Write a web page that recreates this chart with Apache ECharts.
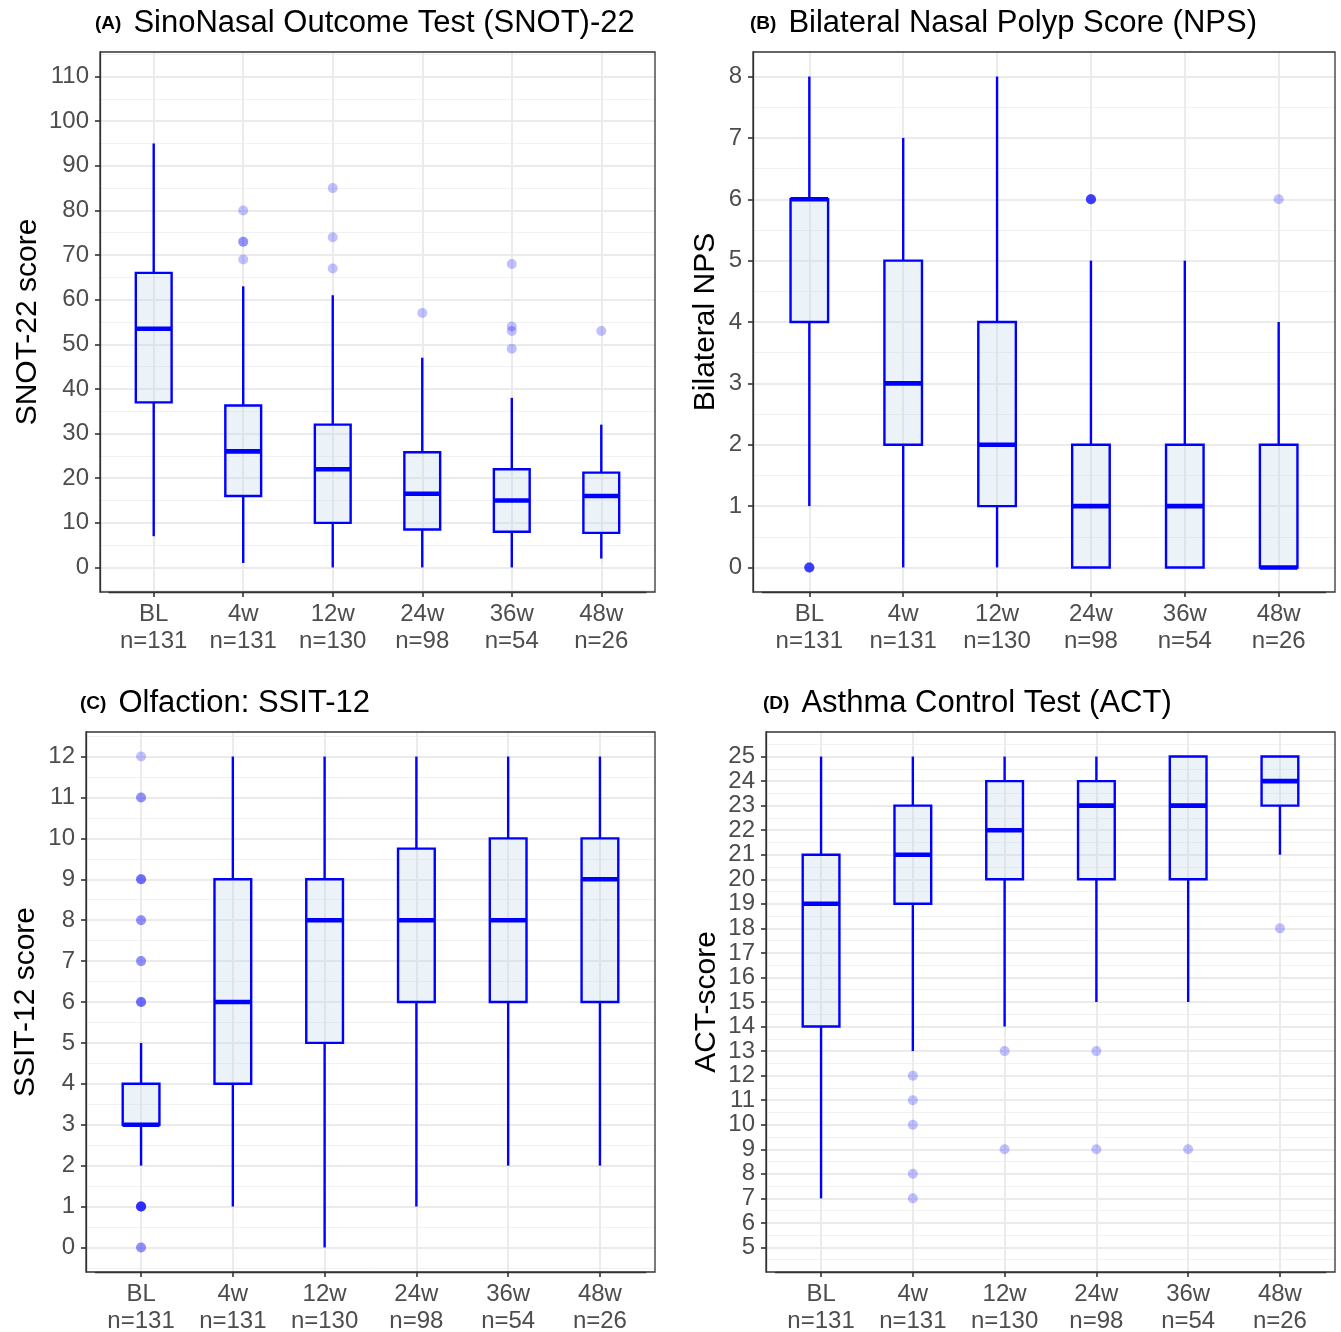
<!DOCTYPE html>
<html><head><meta charset="utf-8">
<script src="https://cdn.jsdelivr.net/npm/echarts@6/dist/echarts.min.js"></script>
<style>html,body{margin:0;padding:0;background:#fff}#c{width:1341px;height:1332px}</style>
</head><body><div id="c"></div>
<script>
// ---------------- DATA ----------------
const categories = ['BL\nn=131', '4w\nn=131', '12w\nn=130', '24w\nn=98', '36w\nn=54', '48w\nn=26'];

// each box: [lower whisker, Q1, median, Q3, upper whisker]
const snotBoxes = [[7, 37, 53.5, 66, 95], [1, 16, 26, 36.3, 63], [0, 10, 22, 32, 61], [0, 8.5, 16.5, 25.8, 47], [0, 8, 15, 22, 38], [2, 7.75, 16, 21.25, 32]];
const snotOutliers = [[1, 69], [1, 73], [1, 73], [1, 80], [2, 67], [2, 74], [2, 85], [3, 57], [4, 49], [4, 53], [4, 54], [4, 68], [5, 53]];
const snotTicks = [0, 10, 20, 30, 40, 50, 60, 70, 80, 90, 100, 110];
const snotMinor = [-5, 5, 15, 25, 35, 45, 55, 65, 75, 85, 95, 105, 115];

const npsBoxes = [[1, 4, 6, 6, 8], [0, 2, 3, 5, 7], [0, 1, 2, 4, 8], [0, 0, 1, 2, 5], [0, 0, 1, 2, 5], [0, 0, 0, 2, 4]];
const npsOutliers = [[0, 0], [0, 0], [0, 0], [0, 0], [0, 0], [3, 6], [3, 6], [3, 6], [3, 6], [3, 6], [5, 6]];
const npsTicks = [0, 1, 2, 3, 4, 5, 6, 7, 8];
const npsMinor = [0.5, 1.5, 2.5, 3.5, 4.5, 5.5, 6.5, 7.5];

const ssitBoxes = [[2, 3, 3, 4, 5], [1, 4, 6, 9, 12], [0, 5, 8, 9, 12], [1, 6, 8, 9.75, 12], [2, 6, 8, 10, 12], [2, 6, 9, 10, 12]];
const ssitOutliers = [[0, 12], [0, 11], [0, 11], [0, 9], [0, 9], [0, 9], [0, 8], [0, 8], [0, 7], [0, 7], [0, 6], [0, 6], [0, 6],
  [0, 1], [0, 1], [0, 1], [0, 1], [0, 1], [0, 1], [0, 0], [0, 0]];
const ssitTicks = [0, 1, 2, 3, 4, 5, 6, 7, 8, 9, 10, 11, 12];
const ssitMinor = [-0.5, 0.5, 1.5, 2.5, 3.5, 4.5, 5.5, 6.5, 7.5, 8.5, 9.5, 10.5, 11.5, 12.5];

const actBoxes = [[7, 14, 19, 21, 25], [13, 19, 21, 23, 25], [14, 20, 22, 24, 25], [15, 20, 23, 24, 25], [15, 20, 23, 25, 25], [21, 23, 24, 25, 25]];
const actOutliers = [[1, 12], [1, 11], [1, 10], [1, 8], [1, 7], [2, 13], [2, 9], [3, 13], [3, 9], [4, 9], [5, 18]];
const actTicks = [5, 6, 7, 8, 9, 10, 11, 12, 13, 14, 15, 16, 17, 18, 19, 20, 21, 22, 23, 24, 25];
const actMinor = [4.5, 5.5, 6.5, 7.5, 8.5, 9.5, 10.5, 11.5, 12.5, 13.5, 14.5, 15.5, 16.5, 17.5, 18.5, 19.5, 20.5, 21.5, 22.5, 23.5, 24.5, 25.5];

// ---------------- LAYOUT / STYLE ----------------
const FONT = 'Liberation Sans, Arial, Helvetica, sans-serif';
const BLUE = '#0000FF';
const FILL = 'rgba(190,215,235,0.30)';
const GRID_COLOR = '#EBEBEB';
const FRAME = '#333333';

const panels = [
  { tag: 'A', title: 'SinoNasal Outcome Test (SNOT)-22', yName: 'SNOT-22 score', boxes: snotBoxes, outliers: snotOutliers, ticks: snotTicks, minor: snotMinor,
    yMin: -5.5, yMax: 115.5, left: 100, top: 52, width: 555, height: 540, nameGap: 57, titleLeft: 95, titleTop: 8 },
  { tag: 'B', title: 'Bilateral Nasal Polyp Score (NPS)', yName: 'Bilateral NPS', boxes: npsBoxes, outliers: npsOutliers, ticks: npsTicks, minor: npsMinor,
    yMin: -0.4, yMax: 8.4, left: 753, top: 52, width: 582, height: 540, nameGap: 32, titleLeft: 750, titleTop: 8 },
  { tag: 'C', title: 'Olfaction: SSIT-12', yName: 'SSIT-12 score', boxes: ssitBoxes, outliers: ssitOutliers, ticks: ssitTicks, minor: ssitMinor,
    yMin: -0.6, yMax: 12.6, left: 86, top: 732, width: 569, height: 540, nameGap: 45, titleLeft: 80, titleTop: 688 },
  { tag: 'D', title: 'Asthma Control Test (ACT)', yName: 'ACT-score', boxes: actBoxes, outliers: actOutliers, ticks: actTicks, minor: actMinor,
    yMin: 4, yMax: 26, left: 766, top: 732, width: 569, height: 540, nameGap: 44, titleLeft: 763, titleTop: 688 }
];

function renderBox(params, api) {
  const x = api.value(0);
  const lo = api.coord([x, api.value(1)]);
  const q1 = api.coord([x, api.value(2)]);
  const md = api.coord([x, api.value(3)]);
  const q3 = api.coord([x, api.value(4)]);
  const hi = api.coord([x, api.value(5)]);
  const band = api.size([1, 0])[0];
  const hw = band * 0.2;
  const cx = lo[0];
  return {
    type: 'group',
    children: [
      { type: 'line', shape: { x1: cx, y1: lo[1], x2: cx, y2: q1[1] }, style: { stroke: BLUE, lineWidth: 2.4 } },
      { type: 'line', shape: { x1: cx, y1: q3[1], x2: cx, y2: hi[1] }, style: { stroke: BLUE, lineWidth: 2.4 } },
      { type: 'rect', shape: { x: cx - hw, y: q3[1], width: 2 * hw, height: q1[1] - q3[1] }, style: { fill: FILL, stroke: BLUE, lineWidth: 2.4 } },
      { type: 'line', shape: { x1: cx - hw, y1: md[1], x2: cx + hw, y2: md[1] }, style: { stroke: BLUE, lineWidth: 4.6 } }
    ]
  };
}

const option = { animation: false, backgroundColor: '#fff', title: [], grid: [], xAxis: [], yAxis: [], series: [] };

panels.forEach((p, k) => {
  const inset = p.width / 62;
  option.title.push({
    text: '{t|(' + p.tag + ')}{m|' + p.title + '}',
    left: p.titleLeft, top: p.titleTop, padding: 0,
    textStyle: { fontWeight: 'normal', rich: {
      t: { fontSize: 19, fontWeight: 'bold', fontFamily: FONT, color: '#000', padding: [0, 12, 0, 0] },
      m: { fontSize: 31, fontWeight: 'normal', fontFamily: FONT, color: '#000' }
    } }
  });
  option.grid.push({ left: p.left, top: p.top, width: p.width, height: p.height, show: true, borderColor: FRAME, borderWidth: 1.3, backgroundColor: 'transparent', z: 10, containLabel: false, outerBoundsMode: 'none' });
  option.grid.push({ left: p.left + inset, top: p.top, width: p.width - 2 * inset, height: p.height, show: false, containLabel: false, outerBoundsMode: 'none' });

  option.xAxis.push({ gridIndex: 2 * k, type: 'value', min: 0, max: 1, show: false });
  option.xAxis.push({
    gridIndex: 2 * k + 1, type: 'category', data: categories, boundaryGap: true, position: 'bottom',
    axisLine: { show: true, onZero: false, lineStyle: { color: FRAME, width: 1.3 } },
    axisTick: { show: true, alignWithLabel: true, length: 5, lineStyle: { color: FRAME, width: 1.6 } },
    axisLabel: { interval: 0, fontSize: 24, lineHeight: 27, color: '#4D4D4D', fontFamily: FONT, margin: 9 },
    splitLine: { show: true, alignWithLabel: true, interval: 0, lineStyle: { color: GRID_COLOR, width: 2 } }
  });

  option.yAxis.push({
    gridIndex: 2 * k, type: 'value', min: p.yMin, max: p.yMax,
    axisLine: { show: true, onZero: false, lineStyle: { color: FRAME, width: 1.3 } },
    axisTick: { show: true, length: 5, customValues: p.ticks, lineStyle: { color: FRAME, width: 1.6 } },
    axisLabel: { customValues: p.ticks, fontSize: 24, color: '#4D4D4D', fontFamily: FONT, margin: 11 },
    splitLine: { show: true, lineStyle: { color: GRID_COLOR, width: 2 } },
    name: p.yName, nameLocation: 'middle', nameRotate: 90, nameGap: p.nameGap,
    nameTextStyle: { fontSize: 30, color: '#000', fontFamily: FONT }
  });
  option.yAxis.push({
    gridIndex: 2 * k, type: 'value', min: p.yMin, max: p.yMax,
    axisLine: { show: false },
    axisTick: { show: false, customValues: p.minor },
    axisLabel: { show: false },
    splitLine: { show: true, lineStyle: { color: '#F1F1F1', width: 1 } }
  });
  option.yAxis.push({ gridIndex: 2 * k + 1, type: 'value', min: p.yMin, max: p.yMax, show: false });

  option.series.push({
    type: 'custom', xAxisIndex: 2 * k + 1, yAxisIndex: 3 * k + 2,
    data: p.boxes.map((b, i) => [i].concat(b)),
    encode: { x: 0, y: [1, 2, 3, 4, 5] },
    renderItem: renderBox, z: 3, silent: true
  });
  option.series.push({
    type: 'scatter', xAxisIndex: 2 * k + 1, yAxisIndex: 3 * k + 2,
    data: p.outliers, symbol: 'circle', symbolSize: 10,
    itemStyle: { color: 'rgba(0,0,255,0.3)' }, z: 4, silent: true
  });
});

const chart = echarts.init(document.getElementById('c'), null, { renderer: 'canvas' });
chart.setOption(option);
</script>
</body></html>
